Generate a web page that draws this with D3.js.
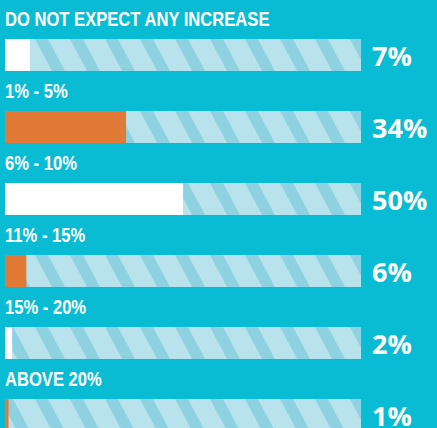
<!DOCTYPE html>
<html>
<head>
<meta charset="utf-8">
<script src="https://cdn.jsdelivr.net/npm/d3@7"></script>
<style>
  body { margin: 0; background: #0abcd3; }
  svg { display: block; }
</style>
</head>
<body>
<div id="chart"></div>
<script>
// Data
const categories = ["DO NOT EXPECT ANY INCREASE", "1% - 5%", "6% - 10%", "11% - 15%", "15% - 20%", "ABOVE 20%"];
const values = [7, 34, 50, 6, 2, 1];
const valueLabels = ["7%", "34%", "50%", "6%", "2%", "1%"];

const W = 437, H = 428;
const barLeft = 5, barRight = 361, barH = 32;

const svg = d3.select("#chart")
    .append("svg")
    .attr("width", W)
    .attr("height", H);

svg.append("rect")
    .attr("width", W)
    .attr("height", H)
    .attr("fill", "#0abcd3");

// striped track pattern
const defs = svg.append("defs");
const pattern = defs.append("pattern")
    .attr("id", "stripes")
    .attr("patternUnits", "userSpaceOnUse")
    .attr("width", 35)
    .attr("height", 35)
    .attr("patternTransform", "skewX(28)");
pattern.append("rect")
    .attr("width", 35)
    .attr("height", 35)
    .attr("fill", "#b8e3ed");
pattern.append("rect")
    .attr("x", 0)
    .attr("width", 13)
    .attr("height", 35)
    .attr("fill", "#8ed2e1");

const x = d3.scaleLinear()
    .domain([0, 100])
    .range([barLeft, barRight]);

const y = d3.scalePoint()
    .domain(categories)
    .range([39, 399]);

const rows = svg.selectAll(".row")
    .data(categories)
    .join("g")
    .attr("class", "row")
    .attr("transform", d => `translate(0, ${y(d)})`);

// track
rows.append("rect")
    .attr("x", x(0))
    .attr("y", 0)
    .attr("width", x(100) - x(0))
    .attr("height", barH)
    .attr("fill", "url(#stripes)");

// value bar
rows.append("rect")
    .attr("x", x(0))
    .attr("y", 0)
    .attr("width", (d, i) => x(values[i]) - x(0))
    .attr("height", barH)
    .attr("fill", (d, i) => i % 2 === 0 ? "#ffffff" : "#e27a37");

// category label (condensed look)
rows.append("text")
    .attr("transform", `translate(${barLeft}, -13) scale(0.83, 1)`)
    .attr("fill", "#ffffff")
    .style("font-family", "'Liberation Sans', Arial, sans-serif")
    .style("font-weight", "bold")
    .style("font-size", "20px")
    .text(d => d);

// value label
rows.append("text")
    .attr("x", 372)
    .attr("y", barH - 5)
    .attr("fill", "#ffffff")
    .style("font-family", "'Open Sans', sans-serif")
    .style("font-weight", "bold")
    .style("font-size", "27px")
    .text((d, i) => valueLabels[i]);
</script>
</body>
</html>
